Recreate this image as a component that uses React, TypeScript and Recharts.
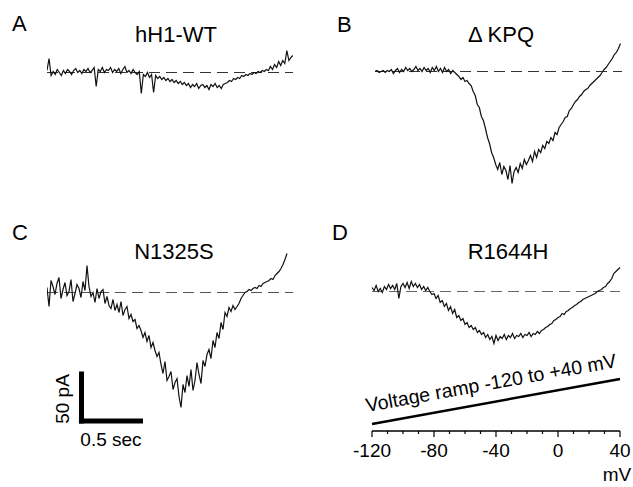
import { LineChart, Line, XAxis, YAxis, ReferenceLine } from "recharts";

// current traces in pA (relative to the dashed zero line), sampled evenly along the -120..+40 mV ramp
const traceA = [
  2, 14, -3, 1, -2, 3, 0, -3, 2, -1, 3, 1, -2, 2, 4, 0, 2, -1, 3, 1, 4, 0, 2, 5, -14, 3, 1, 5, 0, 3,
  2, 5, 0, 3, 1, 4, -1, 3, 6, 0, 2, -1, 3, 0, -2, 1, -21, -2, -4, 0, -5, -2, -20, -3, -6, -4, -7, -5, -8, -6,
  -9, -7, -10, -8, -11, -9, -12, -10, -13, -11, -15, -12, -14, -11, -16, -13, -12, -15, -13, -17, -12, -14, -11, -15, -13, -16, -12, -11, -10, -8,
  -9, -6, -7, -5, -6, -3, -4, -2, -3, -1, -2, 0, -1, 1, 0, 2, 1, 3, 2, 6, 3, 8, 5, 11, 7, 12, 9, 22, 12, 15, 17,
];
const traceB = [
  0, 1, -1, 0, 1, -1, 1, 0, 2, -2, 1, 3, -1, 2, 0, 4, 1, 3, 0, 2, 5, 1, 3, 0, 4, 1, 3, -1, 4, 1,
  5, 0, 3, -1, 4, 0, 2, -2, 1, -1, -3, -5, -8, -6, -10, -9, -12, -14, -20, -24, -33, -36, -45, -49, -57, -66, -72, -81, -86, -93,
  -98, -91, -103, -95, -99, -108, -94, -112, -100, -96, -101, -92, -97, -88, -93, -89, -84, -90, -80, -86, -78, -81, -74, -77, -70, -72, -66, -69, -61, -63,
  -56, -53, -50, -46, -45, -39, -37, -33, -30, -28, -25, -23, -20, -18, -17, -14, -12, -10, -8, -6, -4, -1, 2, 4, 7, 10, 13, 17, 19, 23, 28,
];
const traceC = [
  5, -14, 12, 6, -2, 9, 15, -6, 3, 10, -3, 1, 13, -9, -1, 8, 4, -5, 11, 2, 27, 6, -4, 0, -10, 4, -6, 1, 3, -11,
  -4, -13, -16, -7, -18, -12, -20, -9, -23, -17, -14, -26, -22, -29, -27, -36, -33, -38, -45, -40, -49, -43, -55, -50, -58, -64, -60, -72, -81, -69,
  -88, -84, -79, -97, -90, -86, -104, -115, -92, -100, -83, -94, -77, -98, -88, -70, -82, -91, -68, -74, -62, -57, -66, -48, -55, -40, -46, -30, -37, -20,
  -24, -15, -19, -13, -17, -14, -11, -6, -3, 0, 1, 3, 2, 4, 5, 4, 7, 6, 9, 10, 11, 12, 14, 13, 17, 19, 21, 24, 28, 33, 39,
];
const traceD = [
  4, 1, 6, 0, 3, -1, 5, 2, 7, 3, 6, 2, 8, -7, 5, 8, 4, 9, 3, 10, 5, 8, 4, 7, 2, 5, 1, 4, 0, -3,
  -2, -7, -4, -11, -9, -15, -12, -19, -15, -22, -18, -26, -24, -29, -27, -33, -31, -36, -34, -38, -36, -41, -39, -43, -41, -46, -43, -48, -45, -52,
  -44, -49, -45, -47, -43, -48, -44, -46, -42, -47, -44, -45, -42, -46, -43, -44, -41, -45, -42, -43, -40, -42, -39, -38, -36, -35, -33, -32, -29, -28,
  -26, -25, -22, -23, -20, -19, -17, -16, -14, -13, -11, -10, -8, -7, -6, -5, -4, -3, -2, 0, 1, 2, 4, 5, 8, 10, 13, 18, 20, 22, 24,
];

const rampStart = -120;
const rampEnd = 40;
const mvTicks = [-120, -110, -100, -90, -80, -70, -60, -50, -40, -30, -20, -10, 0, 10, 20, 30, 40];
const mvLabels = [-120, -80, -40, 0, 40];
const rampCommand = [
  { mv: -120, cmd: -120 },
  { mv: 40, cmd: 40 },
];

const step = (rampEnd - rampStart) / (traceA.length - 1);
const rows = traceA.map((_, i) => ({
  mv: rampStart + i * step,
  a: traceA[i],
  b: traceB[i],
  c: traceC[i],
  d: traceD[i],
}));

const font = "'Liberation Sans', Arial, sans-serif";
const dash = "11 6";

const MvTick = (props: any) => {
  const { x, y, payload } = props;
  const major = mvLabels.includes(payload.value);
  return (
    <g>
      <line x1={x} y1={y} x2={x} y2={y + (major ? 6 : 3)} stroke="#000" strokeWidth={1.2} />
      {major && (
        <text x={x} y={y + 26} textAnchor="middle" fontSize={19} fontFamily={font} fill="#000">
          {payload.value}
        </text>
      )}
      {payload.value === 40 && (
        <text x={x - 3} y={y + 50} textAnchor="middle" fontSize={19} fontFamily={font} fill="#000">
          mV
        </text>
      )}
    </g>
  );
};

const Trace = ({ dataKey }: { dataKey: string }) => (
  <Line type="linear" dataKey={dataKey} stroke="#111" strokeWidth={1.2} dot={false} isAnimationActive={false} />
);

export default function App() {
  return (
    <div style={{ position: "absolute", left: 0, top: 0, width: 633, height: 487, background: "#fff", fontFamily: font }}>
      {/* A */}
      <div style={{ position: "absolute", left: 47, top: 42 }}>
        <LineChart width={246} height={61} data={rows} margin={{ top: 0, right: 0, left: 0, bottom: 0 }}>
          <XAxis dataKey="mv" type="number" domain={[-120, 40]} hide />
          <YAxis type="number" domain={[-30.5, 30.5]} hide />
          <ReferenceLine y={0} stroke="#333" strokeDasharray={dash} />
          <Trace dataKey="a" />
        </LineChart>
      </div>
      {/* B */}
      <div style={{ position: "absolute", left: 375, top: 36 }}>
        <LineChart width={247} height={155} data={rows} margin={{ top: 0, right: 0, left: 0, bottom: 0 }}>
          <XAxis dataKey="mv" type="number" domain={[-120, 41]} hide />
          <YAxis type="number" domain={[-119.5, 35.5]} hide />
          <ReferenceLine y={0} stroke="#333" strokeDasharray={dash} />
          <Trace dataKey="b" />
        </LineChart>
      </div>
      {/* C with scale bar */}
      <div style={{ position: "absolute", left: 47, top: 247 }}>
        <LineChart width={246} height={185} data={rows} margin={{ top: 0, right: 0, left: 0, bottom: 0 }}>
          <XAxis dataKey="mv" type="number" domain={[-120, 44]} hide />
          <YAxis type="number" domain={[-139.5, 45.5]} hide />
          <ReferenceLine y={0} stroke="#555" strokeDasharray={dash} />
          <ReferenceLine segment={[{ x: -97, y: -131 }, { x: -97, y: -79 }]} stroke="#000" strokeWidth={5} />
          <ReferenceLine segment={[{ x: -98.7, y: -128.5 }, { x: -56, y: -128.5 }]} stroke="#000" strokeWidth={5} />
          <Trace dataKey="c" />
        </LineChart>
      </div>
      {/* D with voltage ramp and mV axis */}
      <div style={{ position: "absolute", left: 340, top: 261 }}>
        <LineChart width={293} height={226} data={rows} margin={{ top: 0, right: 13, left: 32, bottom: 0 }}>
          <XAxis
            dataKey="mv"
            type="number"
            domain={[-120, 40]}
            ticks={mvTicks}
            interval={0}
            tickSize={0}
            tickMargin={0}
            height={56}
            axisLine={{ stroke: "#000", strokeWidth: 1.5 }}
            tickLine={false}
            tick={<MvTick />}
          />
          <YAxis yAxisId="i" type="number" domain={[-139.5, 30.5]} hide />
          <YAxis yAxisId="v" type="number" domain={[-144.9, 459.5]} hide />
          <ReferenceLine yAxisId="i" y={0} stroke="#666" strokeDasharray={dash} />
          <Line yAxisId="i" type="linear" dataKey="d" stroke="#111" strokeWidth={1.2} dot={false} isAnimationActive={false} />
          <Line
            yAxisId="v"
            data={rampCommand}
            type="linear"
            dataKey="cmd"
            stroke="#000"
            strokeWidth={2.5}
            dot={false}
            isAnimationActive={false}
          />
        </LineChart>
      </div>
      <svg width={633} height={487} style={{ position: "absolute", left: 0, top: 0, pointerEvents: "none" }}>
        <g fontFamily={font} fill="#000">
          <text x={12} y={31} fontSize={22}>A</text>
          <text x={176} y={42} fontSize={22} textAnchor="middle">hH1-WT</text>
          <text x={337} y={32} fontSize={22}>B</text>
          <text x={501} y={42} fontSize={22} textAnchor="middle">Δ KPQ</text>
          <text x={12} y={240} fontSize={22}>C</text>
          <text x={174} y={259} fontSize={22} textAnchor="middle">N1325S</text>
          <text x={332} y={240} fontSize={22}>D</text>
          <text x={508} y={259} fontSize={22} textAnchor="middle">R1644H</text>
          <text transform="translate(69,399) rotate(-90)" fontSize={19} textAnchor="middle">50 pA</text>
          <text x={111} y={446} fontSize={19} textAnchor="middle">0.5 sec</text>
          <text transform="translate(367,412) rotate(-10.2)" fontSize={19.5}>Voltage ramp -120 to +40 mV</text>
        </g>
      </svg>
    </div>
  );
}
